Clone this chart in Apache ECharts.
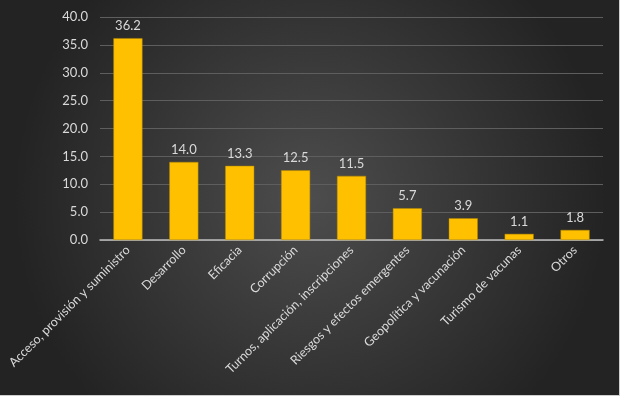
<!DOCTYPE html>
<html><head><meta charset="utf-8">
<script src="https://cdn.jsdelivr.net/npm/echarts@6/dist/echarts.min.js"></script>
<style>html,body{margin:0;padding:0;background:#2a2a2a}#c{width:620px;height:396px}</style>
</head><body><div id="c"></div>
<script>
const categories = ["Acceso, provisión y suministro","Desarrollo","Eficacia","Corrupción","Turnos, aplicación, inscripciones","Riesgos y efectos emergentes","Geopolítica y vacunación","Turismo de vacunas","Otros"];
const values = [36.2, 14.0, 13.3, 12.5, 11.5, 5.7, 3.9, 1.1, 1.8];
const yTicks = [0, 5, 10, 15, 20, 25, 30, 35, 40];

const chart = echarts.init(document.getElementById('c'));
chart.setOption({
  animation: false,
  backgroundColor: {
    type: 'radial', x: 0.5, y: 0.5, r: 0.75,
    colorStops: [{offset: 0, color: '#4d4d4d'}, {offset: 1, color: '#232323'}]
  },
  textStyle: {fontFamily: 'Lato'},
  grid: {left: 100, right: 17, top: 17, bottom: 156},
  xAxis: {
    type: 'category', data: categories,
    axisLine: {lineStyle: {color: '#bfbfbf', width: 1.5}},
    axisTick: {show: false},
    axisLabel: {rotate: 45, color: '#d9d9d9', fontSize: 12.5, interval: 0, margin: 8}
  },
  yAxis: {
    type: 'value', min: yTicks[0], max: yTicks[yTicks.length-1], interval: 5,
    axisLine: {show: false}, axisTick: {show: false},
    axisLabel: {color: '#d9d9d9', fontSize: 13, margin: 12, formatter: v => v.toFixed(1)},
    splitLine: {lineStyle: {color: '#5e5e5e', width: 1}}
  },
  series: [{
    type: 'bar', data: values, barWidth: '52%',
    itemStyle: {color: '#ffc000', borderColor: '#b38600', borderWidth: 0.5},
    label: {show: true, position: 'top', color: '#d9d9d9', fontSize: 13, distance: 6, formatter: p => p.value.toFixed(1)}
  }]
});
</script>
<div style="position:absolute;left:0;top:0;width:619px;height:395px;border-right:1px solid #cfcfcf;border-bottom:1px solid #cfcfcf;pointer-events:none"></div>
</body></html>
